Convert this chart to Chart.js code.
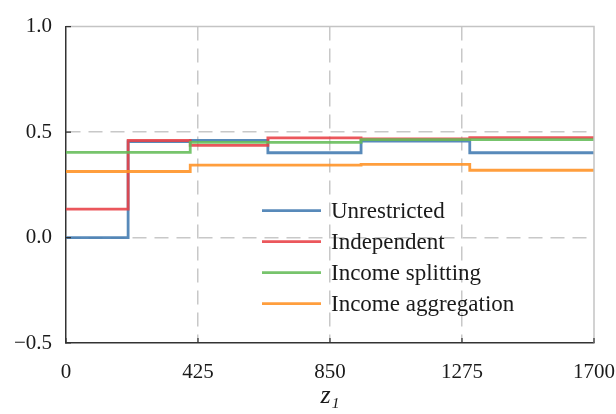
<!DOCTYPE html>
<html>
<head>
<meta charset="utf-8">
<script src="https://cdn.jsdelivr.net/npm/chart.js@4.4.0/dist/chart.umd.min.js"></script>
<style>
  html, body { margin: 0; padding: 0; background: #fff; }
  #wrap { width: 616px; height: 414px; }
</style>
</head>
<body>
<div id="wrap"><canvas id="chart" width="616" height="414"></canvas></div>
<script>
// step edges along z1, value of each series holds until the next edge
const breaks = [0, 200, 400, 650, 950, 1300, 1700];
const unrestricted = [0.0, 0.455, 0.461, 0.402, 0.457, 0.402];
const independent = [0.135, 0.460, 0.437, 0.472, 0.468, 0.474];
const incomeSplitting = [0.404, 0.404, 0.451, 0.451, 0.464, 0.464];
const incomeAggregation = [0.313, 0.313, 0.343, 0.343, 0.347, 0.319];
const seriesLabels = ['Unrestricted', 'Independent', 'Income splitting', 'Income aggregation'];
const xTicks = [0, 425, 850, 1275, 1700];
const yTicks = [-0.5, 0.0, 0.5, 1.0];

const FONT = "'Liberation Serif', 'DejaVu Serif', serif";

const toSteps = vals => breaks.map((x, i) => ({x, y: vals[Math.min(i, vals.length - 1)]}));

const colors = ['rgba(70,125,178,0.9)', 'rgba(232,64,70,0.88)', 'rgba(100,188,88,0.88)', 'rgba(255,148,40,0.9)'];

// top/right frame, inward ticks and the legend inside the plot
const framePlugin = {
  id: 'frame',
  afterDatasetsDraw(chart) {
    const {ctx, chartArea: a, scales} = chart;
    ctx.save();
    ctx.strokeStyle = '#c4c4c4';
    ctx.lineWidth = 1.5;
    ctx.beginPath();
    ctx.moveTo(a.left, a.top);
    ctx.lineTo(a.right, a.top);
    ctx.lineTo(a.right, a.bottom);
    ctx.stroke();

    ctx.strokeStyle = '#333';
    ctx.lineWidth = 1.2;
    ctx.beginPath();
    yTicks.forEach(v => {
      const y = scales.y.getPixelForValue(v);
      ctx.moveTo(a.left, y);
      ctx.lineTo(a.left + 5, y);
    });
    xTicks.forEach(v => {
      const x = scales.x.getPixelForValue(v);
      ctx.moveTo(x, a.bottom);
      ctx.lineTo(x, a.bottom - 5);
    });
    ctx.stroke();

    // legend
    const lx = a.left + 196, ly = a.top + 184, gap = 31;
    ctx.font = '23px ' + FONT;
    ctx.textBaseline = 'middle';
    ctx.fillStyle = '#1a1a1a';
    chart.data.datasets.forEach((ds, i) => {
      const y = ly + i * gap;
      ctx.strokeStyle = ds.borderColor;
      ctx.lineWidth = 2.8;
      ctx.beginPath();
      ctx.moveTo(lx, y);
      ctx.lineTo(lx + 59, y);
      ctx.stroke();
      ctx.fillText(ds.label, lx + 69, y + 1);
    });
    ctx.restore();
  }
};

const datasets = [unrestricted, independent, incomeSplitting, incomeAggregation].map((vals, i) => ({
  label: seriesLabels[i],
  data: toSteps(vals),
  borderColor: colors[i],
  borderWidth: 2.8,
  stepped: true,
  pointRadius: 0,
  fill: false,
  order: 4 - i
}));

const edgeColor = ctx => {
  const v = ctx.tick && ctx.tick.value;
  const s = ctx.scale;
  return (v === s.min || v === s.max) ? 'rgba(0,0,0,0)' : '#c8c8c8';
};

new Chart(document.getElementById('chart'), {
  type: 'line',
  data: {datasets},
  plugins: [framePlugin],
  options: {
    responsive: false,
    animation: false,
    layout: {padding: {top: 20, right: 0, left: 0, bottom: 0}},
    plugins: {legend: {display: false}, tooltip: {enabled: false}},
    scales: {
      x: {
        type: 'linear',
        min: 0,
        max: 1700,
        afterBuildTicks: s => { s.ticks = xTicks.map(value => ({value})); },
        afterFit: s => { s.height = 71; s.paddingRight = 22; s.paddingLeft = 0; },
        ticks: {
          color: '#1a1a1a',
          padding: 17,
          maxRotation: 0,
          font: {family: FONT, size: 21},
          callback: v => String(v)
        },
        grid: {color: edgeColor, lineWidth: 1.5, drawTicks: false},
        border: {display: true, color: '#333', width: 1.5, dash: [14, 8]},
        title: {
          display: true,
          text: 'z₁',
          color: '#1a1a1a',
          padding: {top: 0, bottom: 2},
          font: {family: FONT, size: 26, style: 'italic'}
        }
      },
      y: {
        min: -0.5,
        max: 1.0,
        afterBuildTicks: s => { s.ticks = yTicks.map(value => ({value})); },
        afterFit: s => { s.width = 66; },
        ticks: {
          color: '#1a1a1a',
          padding: 14,
          font: {family: FONT, size: 21},
          callback: v => v.toFixed(1).replace('-', '\u2212')
        },
        grid: {color: edgeColor, lineWidth: 1.5, drawTicks: false},
        border: {display: true, color: '#333', width: 1.5, dash: [14, 8]}
      }
    }
  }
});
</script>
</body>
</html>
